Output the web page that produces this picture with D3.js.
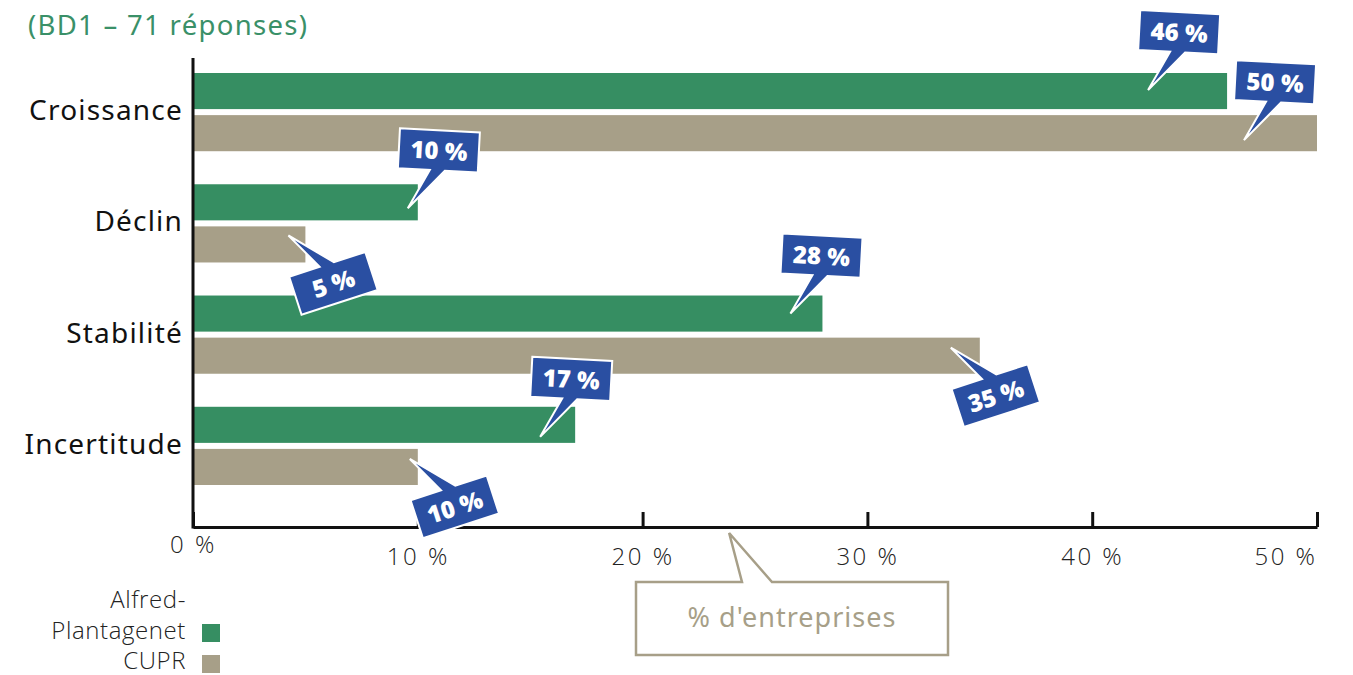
<!DOCTYPE html>
<html><head><meta charset="utf-8">
<script src="https://cdn.jsdelivr.net/npm/d3@7"></script>
<style>
html,body{margin:0;padding:0;background:#fff;}
svg{display:block;}
</style></head>
<body>
<svg id="c" width="1353" height="675"></svg>
<script>
// ---- data ----
const title = "(BD1 – 71 réponses)";
const categories = ["Croissance", "Déclin", "Stabilité", "Incertitude"];
const series = ["Alfred-Plantagenet", "CUPR"];
const alfredValues = [46, 10, 28, 17];
const cuprValues = [50, 5, 35, 10];
const tickValues = [0, 10, 20, 30, 40, 50];
const tickLabels = ["0 %", "10 %", "20 %", "30 %", "40 %", "50 %"];
const legendLabels = [["Alfred-", "Plantagenet"], ["CUPR"]];
const axisTitle = "% d'entreprises";

// ---- styles ----
const colors = {"Alfred-Plantagenet": "#368e62", "CUPR": "#a79f88"};
const blue = "#2a4fa2";
const font = "'Noto Sans', 'Open Sans', sans-serif";
const lightFont = "'Open Sans', 'Noto Sans', sans-serif";
// callout placement (styling): tip offset from bar end / bar center, and direction
const calloutStyle = {
  "Alfred-Plantagenet": [{dx:-79,dy:-1,up:true},{dx:-10,dy:6,up:true},{dx:-32,dy:0,up:true},{dx:-35,dy:12,up:true}],
  "CUPR": [{dx:-73,dy:7,up:true},{dx:-17,dy:-9,up:false},{dx:-29,dy:-8,up:false},{dx:-8,dy:-8,up:false}]
};

const svg = d3.select("#c");
const x = d3.scaleLinear().domain([0, 50]).range([193, 1317]);
const y = d3.scaleBand().domain(categories).range([73, 485]).paddingInner(0.297);
const ys = d3.scaleBand().domain(series).range([0, y.bandwidth()]).paddingInner(0.143);
const axisY = 527, topY = 58;

// title
svg.append("text").attr("x", 28).attr("y", 35).attr("fill", "#3a9068")
  .attr("font-family", font).attr("font-size", 27.5).attr("letter-spacing", 1.3).text(title);

// bars
const rows = [];
categories.forEach((c, i) => {
  rows.push({cat: c, s: series[0], v: alfredValues[i], i});
  rows.push({cat: c, s: series[1], v: cuprValues[i], i});
});
svg.append("g").selectAll("rect").data(rows).join("rect")
  .attr("x", x(0)).attr("y", d => y(d.cat) + ys(d.s))
  .attr("width", d => x(d.v) - x(0)).attr("height", ys.bandwidth())
  .attr("fill", d => colors[d.s]);

// x axis
const xa = svg.append("g").attr("transform", `translate(0,${axisY})`)
  .call(d3.axisBottom(x).tickValues(tickValues).tickSize(-15).tickSizeOuter(0)
    .tickFormat((d, i) => tickLabels[i]));
xa.select(".domain").attr("stroke", "#111").attr("stroke-width", 3);
xa.selectAll(".tick line").attr("stroke", "#111").attr("stroke-width", 3);
xa.selectAll(".tick text").attr("font-family", lightFont).attr("font-weight", 300)
  .attr("font-size", 24).attr("letter-spacing", 2.5).attr("fill", "#222")
  .attr("dy", 0).attr("y", d => d === 0 ? 26 : 38)
  .attr("text-anchor", d => d === 50 ? "end" : "middle");

// y axis line
svg.append("line").attr("x1", x(0)).attr("x2", x(0)).attr("y1", topY).attr("y2", axisY + 1.5)
  .attr("stroke", "#111").attr("stroke-width", 3);

// category labels
svg.append("g").selectAll("text").data(categories).join("text")
  .attr("x", 183).attr("y", d => y(d) + y.bandwidth() / 2 + 8)
  .attr("text-anchor", "end").attr("font-family", font).attr("font-size", 28)
  .attr("letter-spacing", 1.2).attr("fill", "#111").text(d => d);

// callouts
const bw = 80, bh = 40, ltx = -28, lty = 59.5;
rows.forEach(d => {
  const st = calloutStyle[d.s][d.i];
  const tipX = x(d.v) + st.dx;
  const tipY = y(d.cat) + ys(d.s) + ys.bandwidth() / 2 + st.dy;
  const ang = st.up ? 3 : -18;
  const ty = st.up ? lty : -lty;
  const a = ang * Math.PI / 180;
  const gx = ltx * Math.cos(a) - ty * Math.sin(a);
  const gy = ltx * Math.sin(a) + ty * Math.cos(a);
  const cx = tipX - gx, cy = tipY - gy;
  const g = svg.append("g").attr("transform", `translate(${cx},${cy}) rotate(${ang})`);
  const p = st.up
    ? `M${-bw/2},${-bh/2}L${bw/2},${-bh/2}L${bw/2},${bh/2}L7,${bh/2}L${ltx},${ty}L-8,${bh/2}L${-bw/2},${bh/2}Z`
    : `M${-bw/2},${-bh/2}L-8,${-bh/2}L${ltx},${ty}L7,${-bh/2}L${bw/2},${-bh/2}L${bw/2},${bh/2}L${-bw/2},${bh/2}Z`;
  g.append("path").attr("d", p).attr("fill", blue).attr("stroke", "#fff")
    .attr("stroke-width", 2).attr("stroke-linejoin", "miter");
  g.append("text").attr("x", 0).attr("y", 9).attr("text-anchor", "middle")
    .attr("font-family", lightFont).attr("font-weight", 800).attr("font-size", 24)
    .attr("fill", "#fff").text(d.v + " %");
});

// axis title callout
const bx0 = 636, by0 = 582, bx1 = 948, by1 = 655;
const tipAX = x(23.85), tipAY = axisY + 6;
svg.append("path")
  .attr("d", `M${bx0},${by0}L742,${by0}L${tipAX},${tipAY}L772,${by0}L${bx1},${by0}L${bx1},${by1}L${bx0},${by1}Z`)
  .attr("fill", "#fff").attr("stroke", "#a79f88").attr("stroke-width", 2.5);
svg.append("text").attr("x", (bx0 + bx1) / 2).attr("y", 627).attr("text-anchor", "middle")
  .attr("font-family", font).attr("font-size", 27).attr("letter-spacing", 1)
  .attr("fill", "#a79f88").text(axisTitle);

// legend
const lg = svg.append("g");
const lstyle = s => s.attr("text-anchor", "end").attr("font-family", lightFont)
  .attr("font-weight", 300).attr("font-size", 24).attr("letter-spacing", 0.6).attr("fill", "#222");
lg.append("text").attr("x", 186).attr("y", 608).call(lstyle).text(legendLabels[0][0]);
lg.append("text").attr("x", 186).attr("y", 639).call(lstyle).text(legendLabels[0][1]);
lg.append("text").attr("x", 186).attr("y", 669).call(lstyle).text(legendLabels[1][0]);
lg.selectAll("rect").data(series).join("rect")
  .attr("x", 202).attr("y", (d, i) => 624 + i * 31).attr("width", 18).attr("height", 18)
  .attr("fill", d => colors[d]);
</script>
</body></html>
